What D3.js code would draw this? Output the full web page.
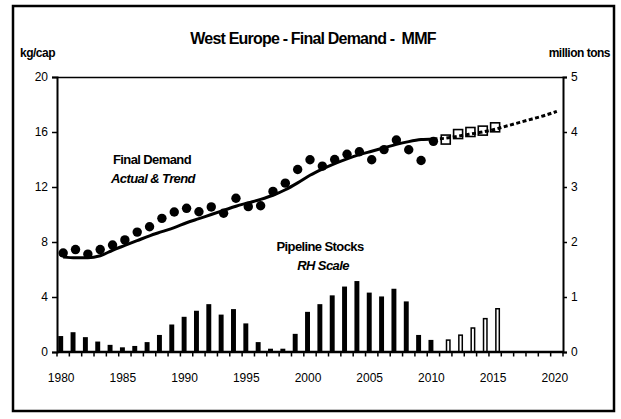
<!DOCTYPE html>
<html>
<head>
<meta charset="utf-8">
<script src="https://cdn.jsdelivr.net/npm/d3@7"></script>
<style>
  body { margin: 0; background: #fff; }
  text { font-family: "Liberation Sans", Arial, sans-serif; fill: #000; }
  .tick text { font-size: 12px; }
  .lbl { font-weight: bold; font-size: 13px; letter-spacing: -0.6px; }
</style>
</head>
<body>
<div id="viz-container"></div>
<script>
var width = 621, height = 419;
var plot = {left: 57, right: 563, top: 77, bottom: 352};

// categories
var years = d3.range(1980, 2021);
var xTickLabels = [1980, 1985, 1990, 1995, 2000, 2005, 2010, 2015, 2020];
var leftTicks = [0, 4, 8, 12, 16, 20];
var rightTicks = [0, 1, 2, 3, 4, 5];

// final demand, kg/cap (actual 1980-2010)
var actualYears = d3.range(1980, 2011);
var demandActual = [7.2, 7.45, 7.12, 7.45, 7.78, 8.15, 8.72, 9.11, 9.72, 10.18,
                    10.45, 10.2, 10.55, 10.09, 11.18, 10.57, 10.64, 11.68, 12.28, 13.27,
                    13.98, 13.52, 14.0, 14.38, 14.56, 13.98, 14.72, 15.42, 14.71, 13.93, 15.32];
var demandTrend = [6.9, 6.85, 6.85, 7.0, 7.4, 7.75, 8.1, 8.45, 8.75, 9.05,
                   9.4, 9.7, 10.0, 10.3, 10.6, 10.85, 11.1, 11.4, 11.8, 12.3,
                   12.85, 13.3, 13.7, 14.05, 14.35, 14.6, 14.85, 15.1, 15.3, 15.45, 15.5];

// forecast 2011-2015 and trend projection 2010-2020
var forecastYears = [2011, 2012, 2013, 2014, 2015];
var demandForecast = [15.45, 15.85, 16.0, 16.1, 16.34];
var projYears = d3.range(2010, 2021);
var demandProj = [15.5, 15.55, 15.7, 15.85, 16.0, 16.2, 16.45, 16.7, 16.95, 17.2, 17.5];

// pipeline stocks, million tons (RH scale)
var stocksActual = [0.29, 0.36, 0.27, 0.19, 0.13, 0.085, 0.11, 0.18, 0.31, 0.5,
                    0.64, 0.75, 0.87, 0.68, 0.78, 0.52, 0.18, 0.06, 0.06, 0.33,
                    0.73, 0.87, 1.03, 1.19, 1.29, 1.08, 1.01, 1.15, 0.92, 0.31, 0.22];
var stocksForecast = [0.23, 0.32, 0.45, 0.62, 0.8];

var svg = d3.select("#viz-container")
            .append("svg")
            .attr("width", width)
            .attr("height", height);

// outer frame
svg.append("rect")
   .attr("x", 13).attr("y", 6)
   .attr("width", 601).attr("height", 405)
   .attr("fill", "none")
   .attr("stroke", "#000")
   .attr("stroke-width", 2.5);

var x = d3.scaleBand()
          .domain(years)
          .range([plot.left, plot.right]);
var xSub = d3.scaleBand()
             .domain(["actual", "forecast"])
             .range([0, x.bandwidth()])
             .paddingOuter(0.25);
var yL = d3.scaleLinear().domain([0, 20]).range([plot.bottom, plot.top]);
var yR = d3.scaleLinear().domain([0, 5]).range([plot.bottom, plot.top]);
function cx(yr) { return x(yr) + x.bandwidth() / 2; }

// top border of plot area
svg.append("line")
   .attr("x1", plot.left).attr("x2", plot.right)
   .attr("y1", plot.top + 0.5).attr("y2", plot.top + 0.5)
   .attr("stroke", "#000").attr("stroke-width", 1.5);

// bars
svg.append("g")
   .selectAll("rect")
   .data(stocksActual)
   .enter().append("rect")
   .attr("x", function(d, i) { return x(actualYears[i]) + xSub("actual"); })
   .attr("width", xSub.bandwidth())
   .attr("y", function(d) { return yR(d); })
   .attr("height", function(d) { return yR(0) - yR(d); })
   .attr("fill", "#000");

svg.append("g")
   .selectAll("rect")
   .data(stocksForecast)
   .enter().append("rect")
   .attr("x", function(d, i) { return x(forecastYears[i]) + xSub("forecast") + 0.75; })
   .attr("width", xSub.bandwidth() - 1.5)
   .attr("y", function(d) { return yR(d) + 0.75; })
   .attr("height", function(d) { return yR(0) - yR(d) - 0.75; })
   .attr("fill", "#fff")
   .attr("stroke", "#000")
   .attr("stroke-width", 1.5);

// trend lines
var line = d3.line()
             .x(function(d) { return cx(d[0]); })
             .y(function(d) { return yL(d[1]); })
             .curve(d3.curveMonotoneX);

svg.append("path")
   .datum(d3.zip(actualYears, demandTrend))
   .attr("d", line)
   .attr("fill", "none")
   .attr("stroke", "#000")
   .attr("stroke-width", 3);

svg.append("path")
   .datum(d3.zip(projYears, demandProj))
   .attr("d", line)
   .attr("fill", "none")
   .attr("stroke", "#000")
   .attr("stroke-width", 3)
   .attr("stroke-dasharray", "4,2.5");

// actual points
svg.append("g")
   .selectAll("circle")
   .data(demandActual)
   .enter().append("circle")
   .attr("cx", function(d, i) { return cx(actualYears[i]); })
   .attr("cy", function(d) { return yL(d); })
   .attr("r", 4.7)
   .attr("fill", "#000");

// forecast squares
svg.append("g")
   .selectAll("rect")
   .data(demandForecast)
   .enter().append("rect")
   .attr("x", function(d, i) { return cx(forecastYears[i]) - 4.5; })
   .attr("y", function(d) { return yL(d) - 4.5; })
   .attr("width", 9).attr("height", 9)
   .attr("fill", "none")
   .attr("stroke", "#000")
   .attr("stroke-width", 1.6);

// axes
var gx = svg.append("g")
            .attr("transform", "translate(0," + plot.bottom + ")");
gx.append("line")
  .attr("x1", plot.left).attr("x2", plot.right)
  .attr("stroke", "#000").attr("stroke-width", 2.5);
gx.selectAll(".xt")
  .data(years.concat([2021]))
  .enter().append("line")
  .attr("x1", function(d) { return d === 2021 ? plot.right : x(d); })
  .attr("x2", function(d) { return d === 2021 ? plot.right : x(d); })
  .attr("y1", 0).attr("y2", 4.5)
  .attr("stroke", "#000").attr("stroke-width", 1.5);
gx.selectAll(".xl")
  .data(xTickLabels)
  .enter().append("text")
  .attr("x", function(d) { return cx(d) - 2; })
  .attr("y", 30)
  .attr("text-anchor", "middle")
  .style("font-size", "12px")
  .text(function(d) { return d; });

svg.append("g")
   .attr("transform", "translate(" + plot.left + ",0)")
   .call(d3.axisLeft(yL).tickValues(leftTicks).tickSize(5).tickPadding(4))
   .call(function(g) {
     g.select(".domain").attr("stroke-width", 2);
     g.selectAll(".tick line").attr("stroke-width", 1.5);
   });

svg.append("g")
   .attr("transform", "translate(" + plot.right + ",0)")
   .call(d3.axisRight(yR).tickValues(rightTicks).tickFormat(d3.format("d"))
           .tickSize(4).tickPadding(4))
   .call(function(g) {
     g.select(".domain").attr("stroke-width", 2);
     g.selectAll(".tick line").attr("stroke-width", 1.5);
   });

svg.selectAll(".tick text").style("font-size", "12px").attr("fill", "#000");
svg.selectAll(".domain").attr("stroke", "#000");

// titles
svg.append("text")
   .attr("x", 313).attr("y", 44)
   .attr("text-anchor", "middle")
   .attr("font-weight", "bold")
   .style("font-size", "16px")
   .style("letter-spacing", "-0.8px")
   .style("white-space", "pre")
   .text("West Europe - Final Demand -  MMF");

svg.append("text")
   .attr("x", 20).attr("y", 57)
   .attr("font-weight", "bold")
   .style("font-size", "12px")
   .style("letter-spacing", "-0.5px")
   .text("kg/cap");

svg.append("text")
   .attr("x", 610).attr("y", 57)
   .attr("text-anchor", "end")
   .attr("font-weight", "bold")
   .style("font-size", "12px")
   .style("letter-spacing", "-0.5px")
   .text("million tons");

svg.append("text").attr("class", "lbl")
   .attr("x", 152).attr("y", 164).attr("text-anchor", "middle")
   .text("Final Demand");
svg.append("text").attr("class", "lbl")
   .attr("x", 153).attr("y", 183).attr("text-anchor", "middle")
   .style("font-style", "italic")
   .text("Actual & Trend");

svg.append("text").attr("class", "lbl")
   .attr("x", 320).attr("y", 251).attr("text-anchor", "middle")
   .text("Pipeline Stocks");
svg.append("text").attr("class", "lbl")
   .attr("x", 323).attr("y", 270).attr("text-anchor", "middle")
   .style("font-style", "italic")
   .text("RH Scale");
</script>
</body>
</html>
